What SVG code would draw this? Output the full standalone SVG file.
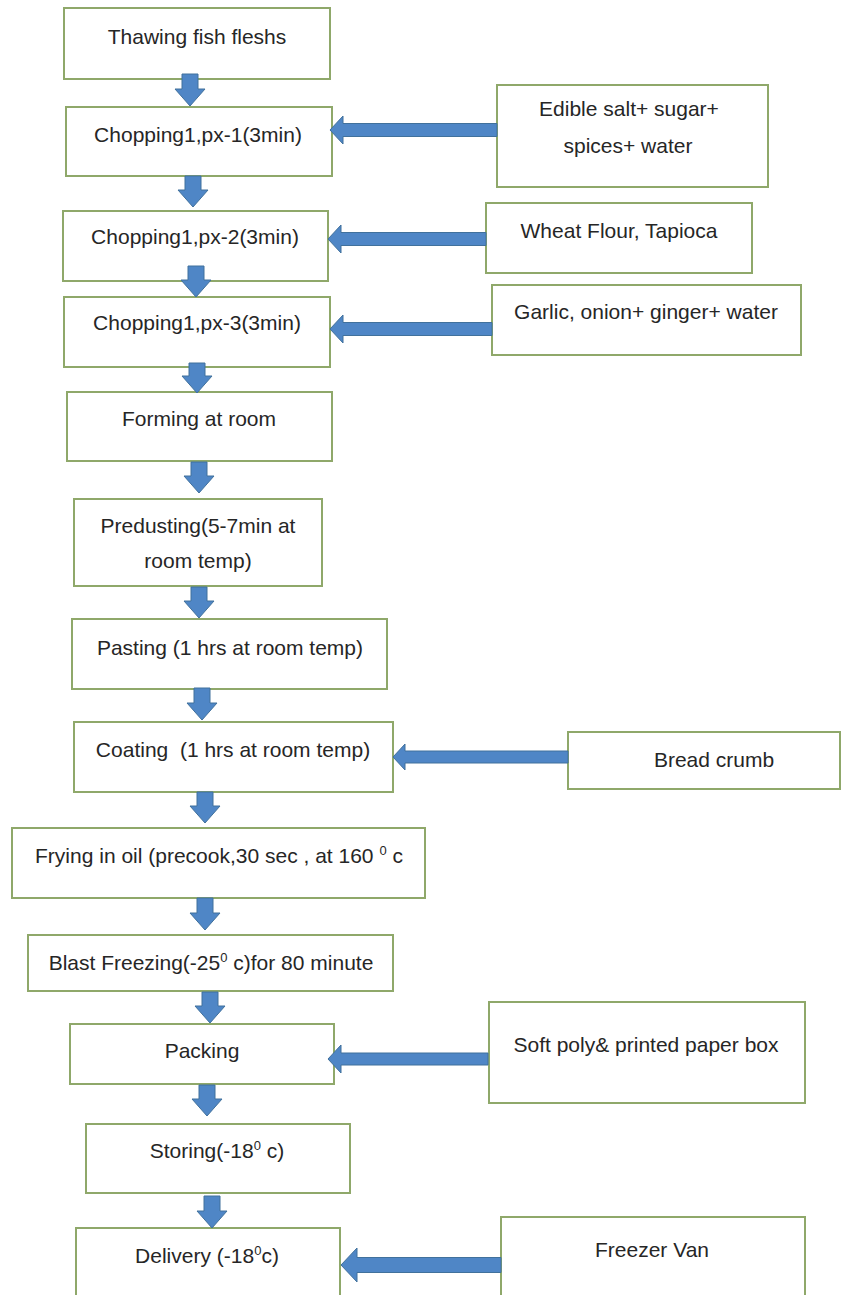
<svg xmlns="http://www.w3.org/2000/svg" width="856" height="1295" viewBox="0 0 856 1295">
<style>
.box{fill:#ffffff;stroke:#8fa86a;stroke-width:2}
.t{font-family:"Liberation Sans",Arial,sans-serif;font-size:21px;fill:#262626;text-anchor:middle}
.ar{fill:#4f86c6;stroke:#41719c;stroke-width:1}
</style>
<rect width="856" height="1295" fill="#ffffff"/>
<g id="n1"><rect class="box" x="64" y="8" width="266" height="71"/><text class="t" x="197" y="44">Thawing fish fleshs</text></g>
<g id="n2"><rect class="box" x="66" y="107" width="266" height="69"/><text class="t" x="198" y="142">Chopping1,px-1(3min)</text></g>
<g id="n3"><rect class="box" x="63" y="211" width="265" height="70"/><text class="t" x="195" y="244">Chopping1,px-2(3min)</text></g>
<g id="n4"><rect class="box" x="64" y="297" width="266" height="70"/><text class="t" x="197" y="330">Chopping1,px-3(3min)</text></g>
<g id="n5"><rect class="box" x="67" y="392" width="265" height="69"/><text class="t" x="199" y="426">Forming at room</text></g>
<g id="n6"><rect class="box" x="74" y="499" width="248" height="87"/><text class="t" x="198" y="533">Predusting(5-7min at</text><text class="t" x="198" y="568">room temp)</text></g>
<g id="n7"><rect class="box" x="72" y="619" width="315" height="70"/><text class="t" x="230" y="655">Pasting (1 hrs at room temp)</text></g>
<g id="n8"><rect class="box" x="74" y="722" width="319" height="70"/><text class="t" x="233" y="757" xml:space="preserve">Coating  (1 hrs at room temp)</text></g>
<g id="n9"><rect class="box" x="12" y="828" width="413" height="70"/><text class="t" x="219" y="863">Frying in oil (precook,30 sec , at 160 <tspan dy="-8" font-size="13">0</tspan><tspan dy="8"> c</tspan></text></g>
<g id="n10"><rect class="box" x="28" y="935" width="365" height="56"/><text class="t" x="211" y="970">Blast Freezing(-25<tspan dy="-8" font-size="13">0</tspan><tspan dy="8"> c)for 80 minute</tspan></text></g>
<g id="n11"><rect class="box" x="70" y="1024" width="264" height="60"/><text class="t" x="202" y="1058">Packing</text></g>
<g id="n12"><rect class="box" x="86" y="1124" width="264" height="69"/><text class="t" x="217" y="1158">Storing(-18<tspan dy="-8" font-size="13">0</tspan><tspan dy="8"> c)</tspan></text></g>
<g id="n13"><rect class="box" x="76" y="1228" width="264" height="80"/><text class="t" x="207" y="1263">Delivery (-18<tspan dy="-8" font-size="13">0</tspan><tspan dy="8">c)</tspan></text></g>
<g id="r1"><rect class="box" x="497" y="85" width="271" height="102"/><text class="t" x="629" y="116">Edible salt+ sugar+</text><text class="t" x="628" y="153">spices+ water</text></g>
<g id="r2"><rect class="box" x="486" y="203" width="266" height="70"/><text class="t" x="619" y="238">Wheat Flour, Tapioca</text></g>
<g id="r3"><rect class="box" x="492" y="285" width="309" height="70"/><text class="t" x="646" y="319">Garlic, onion+ ginger+ water</text></g>
<g id="r4"><rect class="box" x="568" y="732" width="272" height="57"/><text class="t" x="714" y="767">Bread crumb</text></g>
<g id="r5"><rect class="box" x="489" y="1002" width="316" height="101"/><text class="t" x="646" y="1052">Soft poly&amp; printed paper box</text></g>
<g id="r6"><rect class="box" x="501" y="1217" width="304" height="90"/><text class="t" x="652" y="1257">Freezer Van</text></g>
<g id="connectors">
<path class="ar" d="M182,74 H198 V89 H205 L190,106 L175,89 H182 Z"/>
<path class="ar" d="M185,176 H201 V190 H208 L193,207 L178,190 H185 Z"/>
<path class="ar" d="M188,266 H204 V280 H211 L196,297 L181,280 H188 Z"/>
<path class="ar" d="M189,363 H205 V376 H212 L197,393 L182,376 H189 Z"/>
<path class="ar" d="M191,462 H207 V476 H214 L199,493 L184,476 H191 Z"/>
<path class="ar" d="M191,587 H207 V601 H214 L199,618 L184,601 H191 Z"/>
<path class="ar" d="M194,688 H210 V703 H217 L202,720 L187,703 H194 Z"/>
<path class="ar" d="M197,792 H213 V806 H220 L205,823 L190,806 H197 Z"/>
<path class="ar" d="M197,898 H213 V913 H220 L205,930 L190,913 H197 Z"/>
<path class="ar" d="M202,992 H218 V1006 H225 L210,1023 L195,1006 H202 Z"/>
<path class="ar" d="M199,1085 H215 V1099 H222 L207,1116 L192,1099 H199 Z"/>
<path class="ar" d="M204,1196 H220 V1211 H227 L212,1228 L197,1211 H204 Z"/>
<path class="ar" d="M497,123.5 H343 V116 L330,130 L343,144 V136.5 H497 Z"/>
<path class="ar" d="M486,232.5 H341 V225 L328,239 L341,253 V245.5 H486 Z"/>
<path class="ar" d="M492,322.5 H343 V315 L330,329 L343,343 V335.5 H492 Z"/>
<path class="ar" d="M568,751 H405 V744 L393,757 L405,770 V763 H568 Z"/>
<path class="ar" d="M488,1053 H341 V1045 L328,1059 L341,1073 V1065 H488 Z"/>
<path class="ar" d="M501,1257.5 H357 V1248 L341,1265 L357,1282 V1272.5 H501 Z"/>
</g>
</svg>
